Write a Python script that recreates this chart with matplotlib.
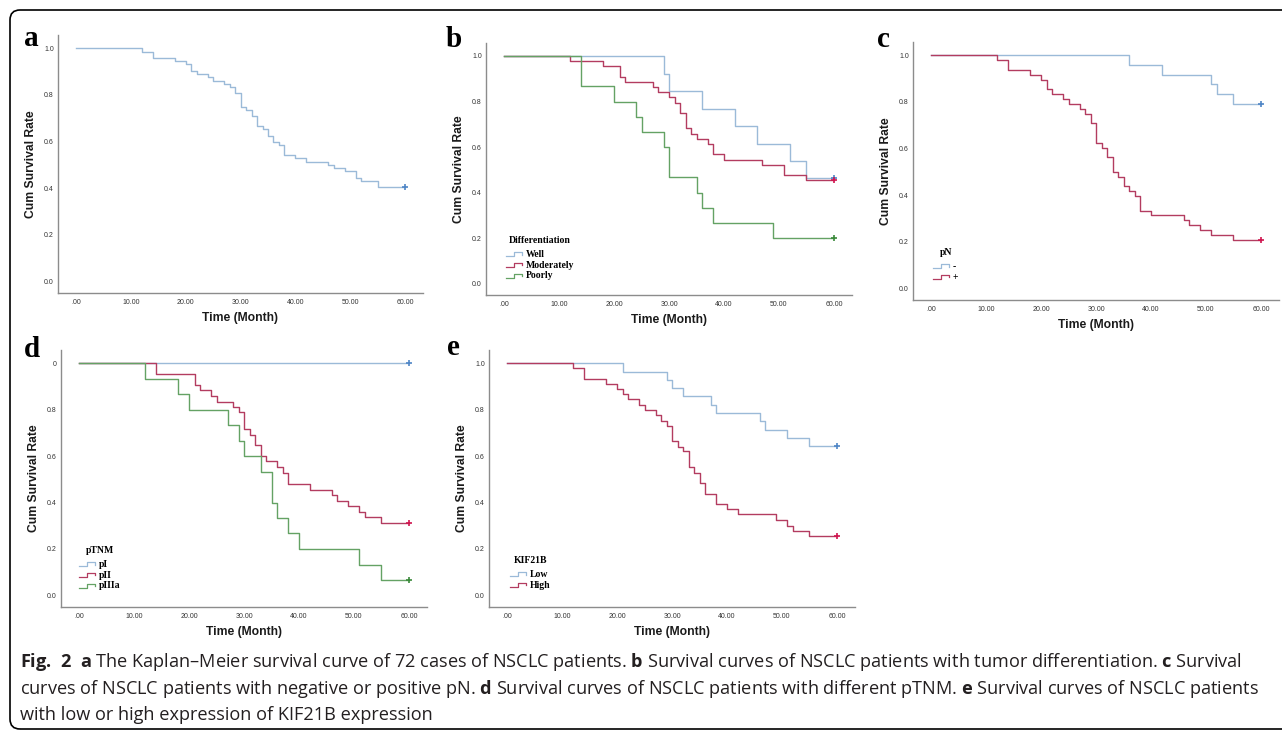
import numpy as np
import matplotlib
matplotlib.use("Agg")
import matplotlib.pyplot as plt
from matplotlib.legend_handler import HandlerBase
from matplotlib.lines import Line2D
from matplotlib.patches import FancyBboxPatch
from matplotlib.transforms import IdentityTransform

W, H = 1282, 732

# axis ticks shared by all panels
X_TICKS = [0, 10, 20, 30, 40, 50, 60]
X_TICK_LABELS = [".00", "10.00", "20.00", "30.00", "40.00", "50.00", "60.00"]
Y_TICKS = [0.0, 0.2, 0.4, 0.6, 0.8, 1.0]
Y_TICK_LABELS = ["0.0", "0.2", "0.4", "0.6", "0.8", "1.0"]
Y_TICK_LABELS_D = ["0.0", "0.2", "0.4", "0.6", "0.8", "0"]

# a: all 72 patients
all_time = [0, 12, 14, 18, 20, 21, 22, 24, 25, 27, 28, 29, 30, 31, 32, 33, 34, 35,
            36, 37, 38, 40, 42, 46, 47, 49, 51, 52, 55, 60]
all_surv = [1.0, 0.986, 0.958, 0.944, 0.931, 0.903, 0.889, 0.875, 0.861, 0.847, 0.833,
            0.806, 0.75, 0.736, 0.708, 0.667, 0.653, 0.625, 0.597, 0.583, 0.542, 0.528,
            0.514, 0.5, 0.486, 0.472, 0.444, 0.431, 0.403, 0.403]

# b: differentiation
well_time = [0, 29, 30, 36, 42, 46, 52, 55, 60]
well_surv = [1.0, 0.923, 0.846, 0.769, 0.692, 0.615, 0.538, 0.462, 0.462]
mod_time = [0, 12, 18, 21, 22, 27, 28, 30, 31, 32, 33, 34, 35, 37, 38, 40, 47, 51, 55, 60]
mod_surv = [1.0, 0.977, 0.955, 0.909, 0.886, 0.864, 0.841, 0.818, 0.795, 0.75, 0.682,
            0.659, 0.636, 0.614, 0.568, 0.545, 0.523, 0.477, 0.455, 0.455]
poor_time = [0, 14, 20, 24, 25, 29, 30, 35, 36, 38, 49, 60]
poor_surv = [1.0, 0.867, 0.8, 0.733, 0.667, 0.6, 0.467, 0.4, 0.333, 0.267, 0.2, 0.2]

# c: pN
pn_neg_time = [0, 36, 42, 51, 52, 55, 60]
pn_neg_surv = [1.0, 0.958, 0.917, 0.875, 0.833, 0.792, 0.792]
pn_pos_time = [0, 12, 14, 18, 20, 21, 22, 24, 25, 27, 28, 29, 30, 31, 32, 33, 34, 35,
               36, 37, 38, 40, 46, 47, 49, 51, 55, 60]
pn_pos_surv = [1.0, 0.979, 0.938, 0.917, 0.896, 0.854, 0.833, 0.813, 0.792, 0.771, 0.75,
               0.708, 0.625, 0.604, 0.563, 0.5, 0.479, 0.438, 0.417, 0.396, 0.333, 0.313,
               0.292, 0.271, 0.25, 0.229, 0.208, 0.208]

# d: pTNM
p1_time = [0, 60]
p1_surv = [1.0, 1.0]
p2_time = [0, 14, 21, 22, 24, 25, 28, 29, 30, 31, 32, 33, 34, 36, 37, 38, 42, 46, 47,
           49, 51, 52, 55, 60]
p2_surv = [1.0, 0.953, 0.907, 0.883, 0.858, 0.835, 0.813, 0.79, 0.715, 0.692, 0.647,
           0.6, 0.578, 0.554, 0.528, 0.478, 0.456, 0.432, 0.408, 0.385, 0.361, 0.339,
           0.313, 0.313]
p3_time = [0, 12, 18, 20, 27, 29, 30, 33, 35, 36, 38, 40, 51, 55, 60]
p3_surv = [1.0, 0.933, 0.867, 0.8, 0.733, 0.667, 0.6, 0.533, 0.4, 0.333, 0.267, 0.2,
           0.133, 0.067, 0.067]

# e: KIF21B
low_time = [0, 21, 29, 30, 32, 37, 38, 46, 47, 51, 55, 60]
low_surv = [1.0, 0.964, 0.929, 0.893, 0.857, 0.821, 0.786, 0.75, 0.714, 0.679, 0.643, 0.643]
high_time = [0, 12, 14, 18, 20, 21, 22, 24, 25, 27, 28, 29, 30, 31, 32, 33, 34, 35, 36,
             38, 40, 42, 49, 51, 52, 55, 60]
high_surv = [1.0, 0.978, 0.934, 0.911, 0.889, 0.867, 0.844, 0.821, 0.799, 0.776, 0.753,
             0.731, 0.664, 0.641, 0.62, 0.553, 0.527, 0.484, 0.436, 0.393, 0.37, 0.349,
             0.324, 0.301, 0.279, 0.257, 0.257]

BLUE, BLUE_M = "#9bbad8", "#4f86c6"
RED, RED_M = "#b33c60", "#d0154f"
GREEN, GREEN_M = "#64a264", "#3b8a3b"

SANS = "Liberation Sans"
SERIF = "Liberation Serif"

plt.rcParams["mathtext.fontset"] = "custom"
plt.rcParams["mathtext.rm"] = "Open Sans"
plt.rcParams["mathtext.bf"] = "Open Sans:bold"


class StepHandle(HandlerBase):
    """Little step glyph, as SPSS draws it in its legends."""

    def create_artists(self, legend, orig_handle, xdescent, ydescent, width, height,
                       fontsize, trans):
        xs = -xdescent + width * np.array([0, 0.5, 0.5, 1.0, 1.0])
        ys = -ydescent + height * np.array([0.1, 0.1, 0.7, 0.7, 0.35])
        return [Line2D(xs, ys, color=orig_handle.get_color(), lw=0.9, transform=trans)]


fig = plt.figure(figsize=(W / 100, H / 100), dpi=100)


def km_panel(box, letter, letter_xy, curves, ylabels=Y_TICK_LABELS, legend=None):
    x0, y0, x1, y1 = box
    ax = fig.add_axes([x0 / W, 1 - y1 / H, (x1 - x0) / W, (y1 - y0) / H])
    lines = []
    for times, surv, color, mcolor, name in curves:
        ln, = ax.step(times, surv, where="post", color=color, lw=1.0, label=name)
        ax.plot(times[-1], surv[-1], marker="+", color=mcolor, ms=5, mew=1.2)
        lines.append(ln)
    ax.set_xlim(-3.35, 63.3)
    ax.set_ylim(-0.05, 1.057)
    ax.set_xticks(X_TICKS, X_TICK_LABELS)
    ax.set_yticks(Y_TICKS, ylabels)
    ax.tick_params(length=0, labelsize=5, labelcolor="#333333")
    ax.tick_params(axis="x", pad=4)
    ax.tick_params(axis="y", pad=3)
    for lab in ax.get_xticklabels() + ax.get_yticklabels():
        lab.set_family(SANS)
    for side in ("top", "right"):
        ax.spines[side].set_visible(False)
    for side in ("left", "bottom"):
        ax.spines[side].set_color("#8c8c8c")
        ax.spines[side].set_linewidth(1.0)
    ax.set_ylabel("Cum Survival Rate", family=SANS, weight="bold", size=8.7, color="#1a1a1a")
    ax.set_xlabel("Time (Month)", family=SANS, weight="bold", size=8.7, color="#1a1a1a")
    ax.yaxis.set_label_coords(-21 / (x1 - x0), 0.5)
    ax.xaxis.set_label_coords(0.5, -19 / (y1 - y0))
    fig.text(letter_xy[0] / W, 1 - letter_xy[1] / H, letter, family=SERIF,
             weight="bold", size=21, ha="left", va="baseline")
    if legend is not None:
        title, lx, ly = legend
        font = dict(family=SERIF, weight="bold", size=7)
        leg = ax.legend(lines, [c[4] for c in curves], title=title, loc="upper left",
                        bbox_to_anchor=(lx / W, 1 - ly / H), bbox_transform=fig.transFigure,
                        frameon=False, prop=font, title_fontproperties=font,
                        handlelength=1.6, handleheight=0.8, handletextpad=0.45,
                        labelspacing=0.175, borderpad=0, borderaxespad=0,
                        handler_map={Line2D: StepHandle()})
        # a bit more room under the legend title, as in the original
        leg._legend_box.sep = 3.4
    return ax


km_panel((58, 35, 423, 293), "a", (24, 46),
         [(all_time, all_surv, BLUE, BLUE_M, "All")])
km_panel((486, 43, 852, 295), "b", (446, 47),
         [(well_time, well_surv, BLUE, BLUE_M, "Well"),
          (mod_time, mod_surv, RED, RED_M, "Moderately"),
          (poor_time, poor_surv, GREEN, GREEN_M, "Poorly")],
         legend=("Differentiation", 506, 236))
km_panel((913, 42, 1279, 300), "c", (877, 47),
         [(pn_neg_time, pn_neg_surv, BLUE, BLUE_M, "-"),
          (pn_pos_time, pn_pos_surv, RED, RED_M, "+")],
         legend=("pN", 933, 248))
km_panel((61, 350, 427, 607), "d", (24, 357),
         [(p1_time, p1_surv, BLUE, BLUE_M, "pI"),
          (p2_time, p2_surv, RED, RED_M, "pII"),
          (p3_time, p3_surv, GREEN, GREEN_M, "pIIIa")],
         ylabels=Y_TICK_LABELS_D, legend=("pTNM", 79, 546))
km_panel((489, 350, 855, 607), "e", (447, 355),
         [(low_time, low_surv, BLUE, BLUE_M, "Low"),
          (high_time, high_surv, RED, RED_M, "High")],
         legend=("KIF21B", 510, 556))

# rounded frame around the figure block
frame = FancyBboxPatch((10, H - 729), 1300, 719, boxstyle="round,pad=0,rounding_size=10",
                       transform=IdentityTransform(), fill=False, ec="black", lw=1.2)
fig.patches.append(frame)

caption = [
    r"$\mathbf{Fig.\ 2}$  $\mathbf{a}$ The Kaplan–Meier survival curve of 72 cases of NSCLC "
    r"patients. $\mathbf{b}$ Survival curves of NSCLC patients with tumor differentiation. "
    r"$\mathbf{c}$ Survival",
    r"curves of NSCLC patients with negative or positive pN. $\mathbf{d}$ Survival curves of "
    r"NSCLC patients with different pTNM. $\mathbf{e}$ Survival curves of NSCLC patients",
    "with low or high expression of KIF21B expression",
]
for i, line in enumerate(caption):
    fig.text(20 / W, 1 - (662 + 26.5 * i) / H, line, family="Open Sans", size=13.1,
             color="#231f20", ha="left", va="center")

fig.savefig("out.png", dpi=100)
